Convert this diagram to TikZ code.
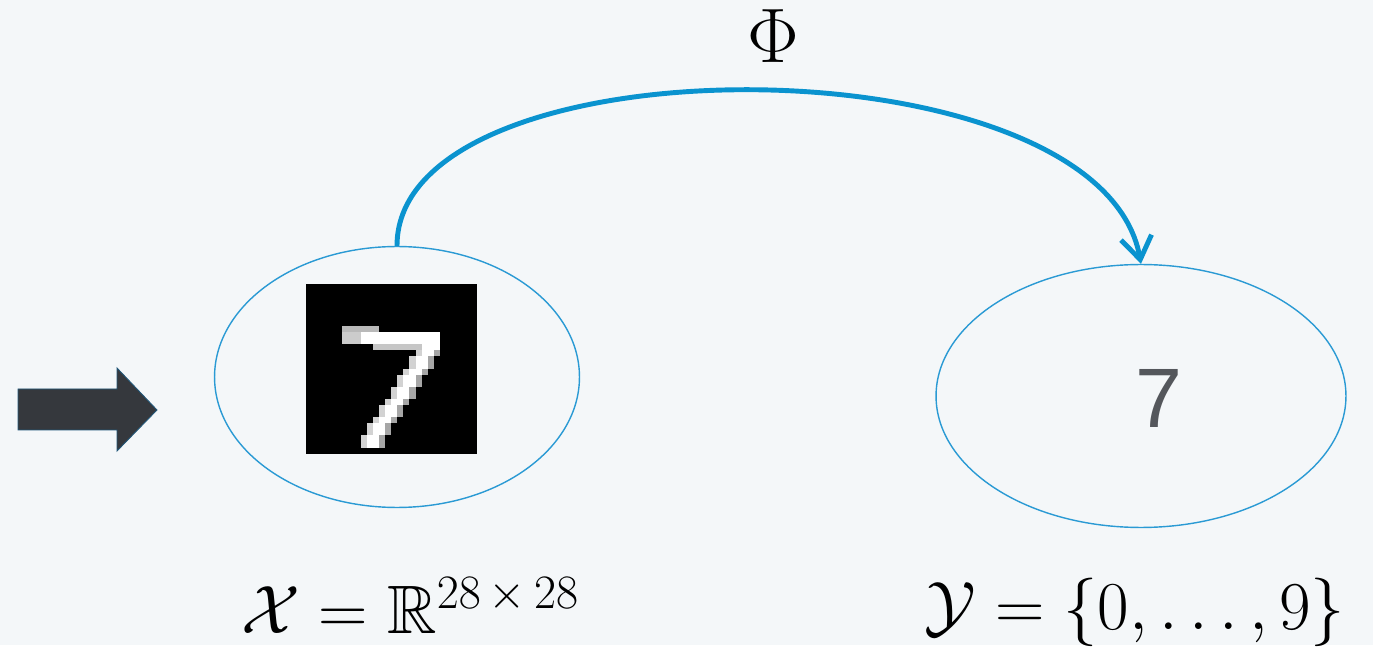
\RequirePackage{fix-cm}
\documentclass[tikz,border=0pt]{standalone}
\usepackage{amssymb}
\usepackage{fontspec}
\newfontfamily\digitfont{Liberation Sans}
\usetikzlibrary{positioning,arrows.meta,shapes.geometric}
\definecolor{bgpanel}{HTML}{F4F7F9}
\definecolor{setline}{HTML}{2A9AD4}
\definecolor{maparc}{HTML}{0A93CF}
\definecolor{arrowfill}{HTML}{35383D}
\definecolor{arrowedge}{HTML}{22587A}
\definecolor{digitgray}{HTML}{54575C}

\begin{document}
\begin{tikzpicture}[
  x=0.02cm, y=-0.02cm,
  setoval/.style={
    ellipse, draw=setline, line width=0.8pt, inner sep=0pt,
  },
  phiarc/.style={
    draw=maparc, line width=2.8pt,
    -{Straight Barb[length=0.45cm, width=0.62cm, line width=2.8pt]},
  },
  setlabel/.style={inner sep=0pt, anchor=base, font=\fontsize{39}{44}\selectfont},
]

% background panel
\fill[bgpanel] (0,0) rectangle (1373,645);

% input arrow
\filldraw[fill=arrowfill, draw=arrowedge, line width=0.5pt]
  (18,389) -- (117,389) -- (117,368) -- (157,410) -- (117,451) -- (117,430) -- (18,430) -- cycle;

% the two sets
\node[setoval, minimum width=7.3cm, minimum height=5.22cm] (inX) at (397,377) {};
\node[setoval, minimum width=8.2cm, minimum height=5.26cm] (outY) at (1141,396) {};

% handwritten digit
\node[fill=black, minimum width=3.42cm, minimum height=3.4cm, inner sep=0pt] (digitimg) at (391.5,369) {};
\begin{scope}[shift={(digitimg.north west)}, x=0.1221cm, y=-0.1214cm]
  \fill[gray!55] (6,7) rectangle (12,8);
  \fill[white!80!black] (6,8) rectangle (9,10);
  \fill[white] (9,8) rectangle (22,10);
  \fill[gray!45] (11,10) rectangle (19,11);
  \fill[white] (19,10) rectangle (22,11);
  \foreach \r in {11,...,26}{
    \pgfmathtruncatemacro\c{19.4-0.62*(\r-11)}
    \fill[gray!35] (\c-1,\r) rectangle ++(1,1);
    \fill[white] (\c,\r) rectangle ++(2,1);
    \fill[gray!70] (\c+2,\r) rectangle ++(1,1);
  }
\end{scope}

% predicted class
\node[text=digitgray, font=\digitfont\fontsize{48}{52}\selectfont] (outdigit) at (1159,398) {7};

% the map
\draw[phiarc] (inX.north) .. controls +(0,-210) and +(-41,-228) .. (outY.north);
\node[inner sep=0pt, font=\fontsize{44}{48}\selectfont] (phi) at (773,36) {$\Phi$};

% set labels
\node[setlabel] (labX) at (410,633) {$\mathcal{X}=\mathbb{R}^{28\mskip3mu\times\mskip3mu28}$};
\node[setlabel] (labY) at (1135,629) {$\mathcal{Y}=\{0,\ldots,9\}$};

\end{tikzpicture}
\end{document}
